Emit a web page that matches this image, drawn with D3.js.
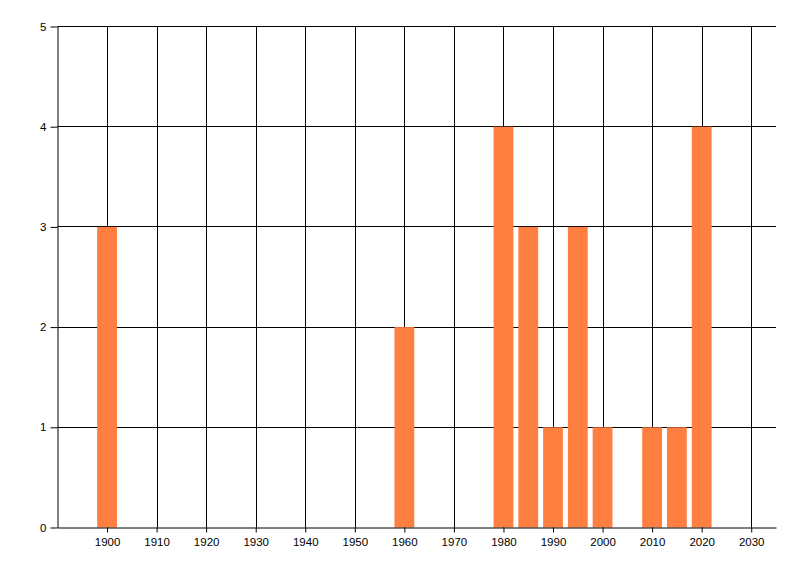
<!DOCTYPE html>
<html><head><meta charset="utf-8">
<script src="https://cdn.jsdelivr.net/npm/d3@7/dist/d3.min.js"></script>
<style>body{margin:0;background:#fff}svg{display:block}text{font-family:"Liberation Sans",Arial,sans-serif;font-size:11.5px;fill:#000}</style>
</head><body><svg id="c" width="800" height="576"></svg>
<script>
const years = [1900, 1960, 1980, 1985, 1990, 1995, 2000, 2010, 2015, 2020];
const counts = [3, 2, 4, 3, 1, 3, 1, 1, 1, 4];
const xTicks = [1900, 1910, 1920, 1930, 1940, 1950, 1960, 1970, 1980, 1990, 2000, 2010, 2020, 2030];
const yTicks = [0, 1, 2, 3, 4, 5];
const barYears = 4;

const svg = d3.select("#c");
const L = 57.5, R = 776, T = 26.5, B = 527.5;
const x = d3.scaleLinear().domain([1890, 2035]).range([L, R]);
const y = d3.scaleLinear().domain([0, 5]).range([B, T]);

// grid
svg.append("g").selectAll("line").data(xTicks).join("line")
  .attr("x1", d => Math.round(x(d)) + 0.5).attr("x2", d => Math.round(x(d)) + 0.5)
  .attr("y1", T).attr("y2", B).attr("stroke", "#000");
svg.append("g").selectAll("line").data(yTicks.filter(d => d > 0)).join("line")
  .attr("x1", L).attr("x2", R)
  .attr("y1", d => Math.round(y(d) - 0.5) + 0.5).attr("y2", d => Math.round(y(d) - 0.5) + 0.5).attr("stroke", "#000");

// bars
svg.append("g").selectAll("rect").data(years.map((d, i) => ({yr: d, v: counts[i]}))).join("rect")
  .attr("x", d => x(d.yr - barYears / 2)).attr("width", d => x(d.yr + barYears / 2) - x(d.yr - barYears / 2))
  .attr("y", d => y(d.v)).attr("height", d => y(0) - y(d.v))
  .attr("fill", "#ff7f40");

// axes
const xa = svg.append("g").attr("transform", `translate(0,${B})`)
  .call(d3.axisBottom(x).tickValues(xTicks).tickFormat(d3.format("d")).tickSize(5).tickSizeOuter(0));
xa.selectAll("text").attr("dy", "0.95em");
const ya = svg.append("g").attr("transform", `translate(${L},0)`)
  .call(d3.axisLeft(y).tickValues(yTicks).tickFormat(d3.format("d")).tickSize(7).tickSizeOuter(0));
ya.selectAll("text").attr("x", -11);
svg.selectAll(".domain").attr("stroke", "#000");
svg.selectAll(".tick line").attr("stroke", "#000");
svg.selectAll(".tick text").style("font-family", '"Liberation Sans",Arial,sans-serif').style("font-size", "11.5px").attr("fill", "#000");
</script></body></html>
